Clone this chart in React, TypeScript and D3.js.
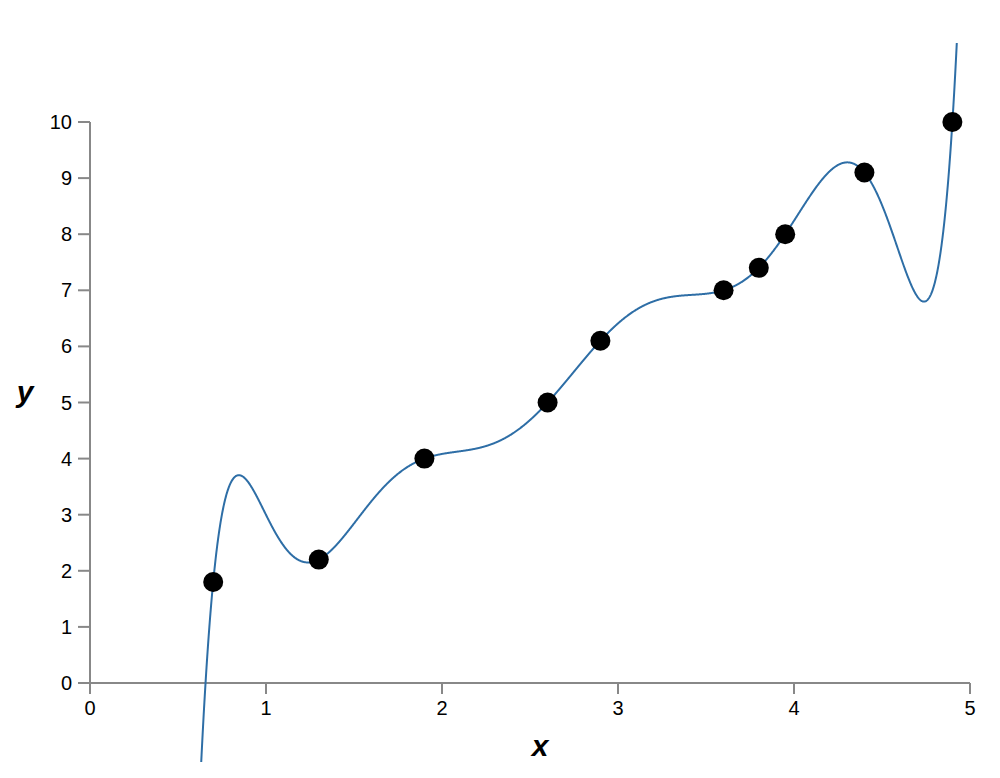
import React from "react";
import * as d3 from "d3";

const xs = [0.7, 1.3, 1.9, 2.6, 2.9, 3.6, 3.8, 3.95, 4.4, 4.9];
const ys = [1.8, 2.2, 4.0, 5.0, 6.1, 7.0, 7.4, 8.0, 9.1, 10.0];
const xTicks = [0, 1, 2, 3, 4, 5];
const yTicks = [0, 1, 2, 3, 4, 5, 6, 7, 8, 9, 10];

function lagrange(x: number): number {
  let s = 0;
  for (let i = 0; i < xs.length; i++) {
    let t = ys[i];
    for (let j = 0; j < xs.length; j++) {
      if (j !== i) t *= (x - xs[j]) / (xs[i] - xs[j]);
    }
    s += t;
  }
  return s;
}

export default function App() {
  const W = 1000, H = 778;
  const x = d3.scaleLinear().domain([0, 5]).range([90, 970]);
  const y = d3.scaleLinear().domain([0, 10]).range([683, 122]);
  const samples = d3.range(0, 5.0001, 0.002).map((v) => [v, lagrange(v)] as [number, number]);
  const line = d3
    .line<[number, number]>()
    .x((d) => x(d[0]))
    .y((d) => {
      const py = y(d[1]);
      return Math.max(-1000, Math.min(2000, py));
    });
  const axisColor = "#888";
  const font = "'Liberation Sans', Arial, Helvetica, sans-serif";
  const clipTop = y(11.41);
  const clipBot = y(-1.41);
  return (
    <svg width={W} height={H} style={{ position: "absolute", left: 0, top: 0 }} fontFamily={font}>
      <defs>
        <clipPath id="clip">
          <rect x={0} y={clipTop} width={W} height={clipBot - clipTop} />
        </clipPath>
      </defs>
      {/* x axis */}
      <line x1={x(0)} x2={x(5)} y1={y(0)} y2={y(0)} stroke={axisColor} strokeWidth={2} />
      {xTicks.map((t) => (
        <g key={"xt" + t}>
          <line x1={x(t)} x2={x(t)} y1={y(0)} y2={y(0) + 11} stroke={axisColor} strokeWidth={2} />
          <text x={x(t)} y={y(0) + 32} textAnchor="middle" fontSize={20} fill="#000">
            {t}
          </text>
        </g>
      ))}
      {/* y axis */}
      <line x1={x(0)} x2={x(0)} y1={y(0)} y2={y(10)} stroke={axisColor} strokeWidth={2} />
      {yTicks.map((t) => (
        <g key={"yt" + t}>
          <line x1={x(0) - 12} x2={x(0)} y1={y(t)} y2={y(t)} stroke={axisColor} strokeWidth={2} />
          <text x={x(0) - 18} y={y(t)} dy="0.35em" textAnchor="end" fontSize={20} fill="#000">
            {t}
          </text>
        </g>
      ))}
      <text x={540} y={756} textAnchor="middle" fontSize={30} fontWeight="bold" fontStyle="italic">
        x
      </text>
      <text x={25} y={402} textAnchor="middle" fontSize={30} fontWeight="bold" fontStyle="italic">
        y
      </text>
      <path d={line(samples) || ""} fill="none" stroke="#2e6ea6" strokeWidth={2} clipPath="url(#clip)" />
      {xs.map((v, i) => (
        <circle key={"p" + i} cx={x(v)} cy={y(ys[i])} r={10} fill="#000" />
      ))}
    </svg>
  );
}
